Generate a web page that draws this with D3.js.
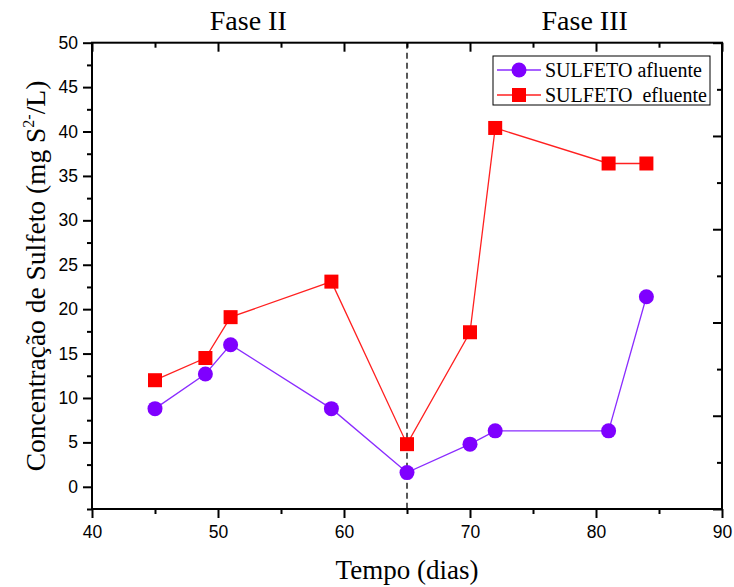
<!doctype html>
<html>
  <head>
    <script src="https://cdn.jsdelivr.net/npm/d3@7"></script>
    <style>
      body { margin: 0; background: #fff; }
      .serif { font-family: "Liberation Serif", "Times New Roman", serif; fill: #000; }
    </style>
  </head>
  <body>
    <svg id="chart"></svg>
    <script>
      // dados
      var dias = [45, 49, 51, 59, 65, 70, 72, 81, 84];
      var afluente = [8.8, 12.7, 16.0, 8.8, 1.6, 4.8, 6.3, 6.3, 21.4];
      var efluente = [12.0, 14.5, 19.1, 23.1, 4.8, 17.4, 40.4, 36.4, 36.4];
      var xTicks = [40, 50, 60, 70, 80, 90];
      var yTicks = [0, 5, 10, 15, 20, 25, 30, 35, 40, 45, 50];
      var fases = [{nome: "Fase II", x: 52.4}, {nome: "Fase III", x: 79.1}];
      var divisao = 65;

      var width = 734, height = 587;
      var pL = 92, pR = 722, pT = 42.7, pB = 509;   // limites da área do gráfico

      var svg = d3.select("#chart").attr("width", width).attr("height", height);

      var x = d3.scaleLinear().domain([40, 90]).range([pL, pR]);
      var y = d3.scaleLinear().domain([-2.5, 50]).range([pB, pT]);
      var yRight = d3.scaleLinear().domain([0, 50]).range([pB, pT]);

      // eixos: ticks menores primeiro, depois maiores com rótulos
      var minorX = d3.range(45, 90, 10);
      var minorY = d3.range(-2.5, 50, 5);

      svg.append("g").attr("transform", "translate(0," + pB + ")")
        .call(d3.axisBottom(x).tickValues(minorX).tickSize(5).tickFormat(""));
      svg.append("g").attr("transform", "translate(0," + pB + ")")
        .call(d3.axisBottom(x).tickValues(xTicks).tickSize(9).tickPadding(8));

      svg.append("g").attr("transform", "translate(0," + pT + ")")
        .call(d3.axisTop(x).tickValues(minorX).tickSize(-5).tickFormat(""));
      svg.append("g").attr("transform", "translate(0," + pT + ")")
        .call(d3.axisTop(x).tickValues(xTicks).tickSize(-9).tickFormat(""));

      svg.append("g").attr("transform", "translate(" + pL + ",0)")
        .call(d3.axisLeft(y).tickValues(minorY).tickSize(5).tickFormat(""));
      svg.append("g").attr("transform", "translate(" + pL + ",0)")
        .call(d3.axisLeft(y).tickValues(yTicks).tickSize(9).tickPadding(5));

      svg.append("g").attr("transform", "translate(" + pR + ",0)")
        .call(d3.axisRight(yRight).tickValues(d3.range(5, 50, 10)).tickSize(-5).tickFormat(""));
      svg.append("g").attr("transform", "translate(" + pR + ",0)")
        .call(d3.axisRight(yRight).tickValues(d3.range(0, 51, 10)).tickSize(-9).tickFormat(""));

      svg.selectAll(".domain").remove();
      svg.selectAll(".tick line").attr("stroke", "#000").attr("stroke-width", 2);
      svg.selectAll(".tick text")
        .style("font-family", "'Liberation Sans', Arial, sans-serif")
        .style("font-size", "17.5px").attr("fill", "#000");

      // moldura
      svg.append("rect").attr("x", pL).attr("y", pT)
        .attr("width", pR - pL).attr("height", pB - pT)
        .attr("fill", "none").attr("stroke", "#000").attr("stroke-width", 2);

      // linha tracejada entre fases
      svg.append("line")
        .attr("x1", x(divisao)).attr("x2", x(divisao))
        .attr("y1", pT).attr("y2", pB)
        .attr("stroke", "#000").attr("stroke-width", 1.3)
        .attr("stroke-dasharray", "6,4");

      // séries
      var line = d3.line().x(function(d){ return x(d[0]); }).y(function(d){ return y(d[1]); });
      var ptsAfl = dias.map(function(d, i){ return [d, afluente[i]]; });
      var ptsEfl = dias.map(function(d, i){ return [d, efluente[i]]; });

      svg.append("path").datum(ptsEfl).attr("d", line)
        .attr("fill", "none").attr("stroke", "#ff2020").attr("stroke-width", 1.3);
      svg.append("path").datum(ptsAfl).attr("d", line)
        .attr("fill", "none").attr("stroke", "#8a2cff").attr("stroke-width", 1.3);

      var sq = 14;
      svg.selectAll(".sq").data(ptsEfl).enter().append("rect")
        .attr("x", function(d){ return x(d[0]) - sq/2; })
        .attr("y", function(d){ return y(d[1]) - sq/2; })
        .attr("width", sq).attr("height", sq)
        .attr("fill", "#ff0000");
      svg.selectAll(".ci").data(ptsAfl).enter().append("circle")
        .attr("cx", function(d){ return x(d[0]); })
        .attr("cy", function(d){ return y(d[1]); })
        .attr("r", 7.5)
        .attr("fill", "#7f00ff");

      // legenda
      var lg = svg.append("g").attr("transform", "translate(493,56)");
      lg.append("rect").attr("width", 217).attr("height", 49)
        .attr("fill", "#fff").attr("stroke", "#000").attr("stroke-width", 1);
      var itens = [
        {nome: "SULFETO afluente", cor: "#8a2cff", mk: "#7f00ff", forma: "c"},
        {nome: "SULFETO  efluente", cor: "#ff2020", mk: "#ff0000", forma: "s"}
      ];
      itens.forEach(function(it, i){
        var yy = 14 + i * 25;
        lg.append("line").attr("x1", 4).attr("x2", 48).attr("y1", yy).attr("y2", yy)
          .attr("stroke", it.cor).attr("stroke-width", 1.3);
        if (it.forma == "c") {
          lg.append("circle").attr("cx", 26).attr("cy", yy).attr("r", 7.5).attr("fill", it.mk);
        } else {
          lg.append("rect").attr("x", 19).attr("y", yy - 7).attr("width", 14).attr("height", 14).attr("fill", it.mk);
        }
        lg.append("text").attr("class", "serif").attr("x", 52).attr("y", yy + 6.5)
          .style("font-size", "20px").style("white-space", "pre").text(it.nome);
      });

      // títulos das fases
      svg.selectAll(".fase").data(fases).enter().append("text")
        .attr("class", "serif")
        .attr("x", function(d){ return x(d.x); })
        .attr("y", 30)
        .attr("text-anchor", "middle")
        .style("font-size", "28px")
        .text(function(d){ return d.nome; });

      // rótulo eixo x
      svg.append("text").attr("class", "serif")
        .attr("x", 407).attr("y", 579)
        .attr("text-anchor", "middle")
        .style("font-size", "27px")
        .text("Tempo (dias)");

      // rótulo eixo y
      var yl = svg.append("text").attr("class", "serif")
        .attr("transform", "translate(45,276) rotate(-90)")
        .attr("text-anchor", "middle")
        .style("font-size", "27.5px");
      yl.append("tspan").text("Concentração de Sulfeto (mg S");
      yl.append("tspan").attr("dy", -11).style("font-size", "16px").text("2-");
      yl.append("tspan").attr("dy", 11).text("/L)");
    </script>
  </body>
</html>
